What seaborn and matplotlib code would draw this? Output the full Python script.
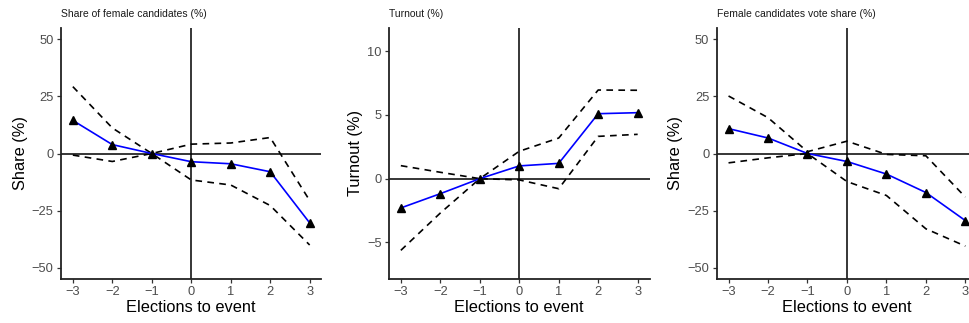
import numpy as np
import pandas as pd
import matplotlib
matplotlib.use("Agg")
import matplotlib.pyplot as plt
import seaborn as sns

sns.set_theme(style="white")
plt.rcParams['font.family'] = ['Liberation Sans', 'DejaVu Sans']

x = [-3, -2, -1, 0, 1, 2, 3]

titles = ["Share of female candidates (%)", "Turnout (%)", "Female candidates vote share (%)"]
ylabels = ["Share (%)", "Turnout (%)", "Share (%)"]
xlabel = "Elections to event"

est1 = [14.5, 3.9, 0.0, -3.6, -4.5, -8.0, -30.4]
up1 = [29.3, 11.2, 0.0, 4.1, 4.6, 7.0, -20.6]
lo1 = [-0.7, -3.5, 0.0, -11.6, -13.8, -22.8, -40.1]

est2 = [-2.3, -1.18, 0.0, 1.0, 1.2, 5.1, 5.18]
up2 = [1.02, 0.5, 0.0, 2.15, 3.19, 6.96, 6.94]
lo2 = [-5.63, -2.7, 0.0, -0.1, -0.79, 3.32, 3.48]

est3 = [10.9, 6.8, 0.0, -3.5, -9.0, -17.1, -29.4]
up3 = [25.2, 15.7, 0.8, 5.4, -0.4, -1.0, -19.1]
lo3 = [-4.1, -1.9, 0.0, -12.3, -18.4, -33.0, -40.6]

yticks_list = [[-50, -25, 0, 25, 50], [-5, 0, 5, 10], [-50, -25, 0, 25, 50]]
ylims = [(-55, 55), (-7.88, 11.83), (-55, 55)]

panels = [(est1, up1, lo1), (est2, up2, lo2), (est3, up3, lo3)]

fig = plt.figure(figsize=(9.69, 3.23), dpi=100)
W, H = 969, 323
lefts = [61, 389, 716.7]
top, bottom = 28, 279
width = 260.5

for i, (est, up, lo) in enumerate(panels):
    ax = fig.add_axes([lefts[i] / W, 1 - bottom / H, width / W, (bottom - top) / H])
    df = pd.DataFrame({"x": x, "est": est, "up": up, "lo": lo})
    ax.axhline(0, color='black', lw=1.1, zorder=1)
    ax.axvline(0, color='black', lw=1.1, zorder=1)
    sns.lineplot(data=df, x="x", y="up", ax=ax, color='black', lw=1.2,
                 linestyle=(0, (4, 3.2)), zorder=2)
    sns.lineplot(data=df, x="x", y="lo", ax=ax, color='black', lw=1.2,
                 linestyle=(0, (4, 3.2)), zorder=2)
    sns.lineplot(data=df, x="x", y="est", ax=ax, color='#0000FF', lw=1.2, zorder=3)
    ax.plot(df["x"], df["est"], linestyle='none', marker='^', color='black',
            markersize=6, zorder=4)
    ax.set_xlim(-3.3, 3.3)
    ax.set_ylim(*ylims[i])
    ax.set_xticks(x)
    ax.set_xticklabels([str(v).replace('-', '\u2212') for v in x])
    ax.set_yticks(yticks_list[i])
    ax.set_yticklabels([str(v).replace('-', '\u2212') for v in yticks_list[i]])
    ax.tick_params(axis='both', which='both', length=2.7, width=0.9, color='#333333',
                   labelcolor='#4D4D4D', labelsize=9.3, pad=2.6, direction='out',
                   bottom=True, left=True)
    for s in ['top', 'right']:
        ax.spines[s].set_visible(False)
    for s in ['left', 'bottom']:
        ax.spines[s].set_color('#222222')
        ax.spines[s].set_linewidth(1.3)
    ax.set_xlabel(xlabel, fontsize=11.8, color='black', labelpad=1)
    ax.set_ylabel(ylabels[i], fontsize=11.8, color='black', labelpad=3)
    ax.set_title(titles[i], fontsize=7.5, loc='left', pad=8, color='#1a1a1a')
    ax.grid(False)

fig.savefig("out.png", dpi=100)
